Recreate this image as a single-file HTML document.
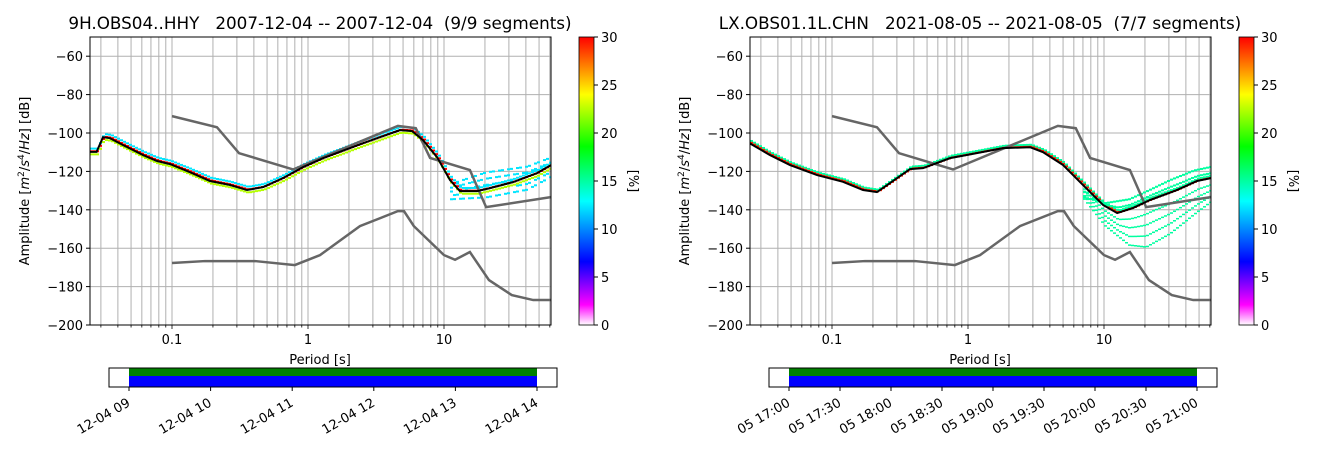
<!DOCTYPE html>
<html><head><meta charset="utf-8"><style>
body{margin:0;background:#fff;}
svg{display:block;font-family:"DejaVu Sans","Liberation Sans",sans-serif;}
text{white-space:pre;}
</style></head><body>
<svg id="s" width="1318" height="454" xmlns="http://www.w3.org/2000/svg">
<defs>
<linearGradient id="cb" x1="0" y1="1" x2="0" y2="0">
<stop offset="0" stop-color="#ffffff"/><stop offset="0.07" stop-color="#ff00ff"/>
<stop offset="0.22" stop-color="#0000ff"/><stop offset="0.43" stop-color="#00ffff"/>
<stop offset="0.62" stop-color="#00ff00"/><stop offset="0.8" stop-color="#ffff00"/>
<stop offset="1" stop-color="#ff0000"/></linearGradient>
</defs>
</svg>
<script>
// ---- data ----
const nhnmPeriods=[0.1,0.214,0.311,0.776,4.58,6.2,7.9,15.5,20.4,61];
const nhnmDb=[-91.2,-97,-110.5,-119,-96.3,-97.5,-113,-119.3,-138.6,-133.4];
const nlnmPeriods=[0.1,0.175,0.408,0.8,1.225,2.41,4.58,5.08,6.0,10,12.06,15.5,21.4,31.5,45.3,61];
const nlnmDb=[-167.7,-166.7,-166.7,-168.8,-163.6,-148.5,-140.7,-140.7,-148.5,-163.6,-166,-162,-176.6,-184.4,-187,-187];
const modeLPeriods=[0.0249,0.0279,0.0311,0.035,0.0437,0.0612,0.0776,0.0966,0.1355,0.19,0.267,0.356,0.467,0.655,0.918,1.29,2.54,4.74,5.82,7.01,8.89,11.07,13.1,17.5,21.8,32.1,48.3,61.2];
const modeLDb=[-109.8,-109.8,-102.2,-102.7,-106.3,-111.5,-114.6,-116.2,-120.4,-125,-127.1,-129.7,-128.2,-123.5,-117.8,-113.1,-105.3,-98.5,-99,-103.7,-112.6,-124.5,-130.3,-130.3,-128.7,-125.6,-120.9,-116.7];
const modeRPeriods=[0.0249,0.035,0.0491,0.0776,0.1205,0.169,0.214,0.267,0.375,0.467,0.738,1.16,1.81,2.86,3.56,5.0,7.01,9.84,12.5,16.3,21.8,34.4,48.3,61.2];
const modeRDb=[-105.4,-111.5,-116.7,-121.9,-125.4,-129.7,-130.8,-126.1,-118.8,-118.3,-113.1,-110.5,-107.9,-107.4,-110,-116.7,-127.1,-137.5,-141.7,-139.1,-134.9,-129.7,-125,-123.5];
const spreadLPeriods=[11,20,40,61];
const spreadLTop=[-126,-120,-117,-112];
const spreadLBot=[-134,-133,-129,-122];
const fanRPeriods=[7,10,15,20,30,45,61];
const fanRTop=[-133,-136,-134,-130,-124,-119,-117];
const fanRBot=[-134,-148,-158,-159,-152,-142,-135];
const cbTicks=[0,5,10,15,20,25,30];
const yTicks=[-60,-80,-100,-120,-140,-160,-180,-200];
const timeLabelsL=["12-04 09","12-04 10","12-04 11","12-04 12","12-04 13","12-04 14"];
const timeLabelsR=["05 17:00","05 17:30","05 18:00","05 18:30","05 19:00","05 19:30","05 20:00","05 20:30","05 21:00"];

const S=document.getElementById('s');const NS='http://www.w3.org/2000/svg';
function el(t,a,p){const e=document.createElementNS(NS,t);for(const k in a)e.setAttribute(k,a[k]);(p||S).appendChild(e);return e;}
function interp(xs,ys,x){const lx=Math.log10(x);for(let i=0;i<xs.length-1;i++){const a=Math.log10(xs[i]),b=Math.log10(xs[i+1]);if(lx>=a&&lx<=b){return ys[i]+(ys[i+1]-ys[i])*(lx-a)/(b-a);}}return lx<Math.log10(xs[0])?ys[0]:ys[ys.length-1];}

function panel(off,title,modeP,modeD,kind,tlabels,name){
 const X0=90+off,X1=551+off,Y0=37,Y1=325;
 const xs=p=>X0+82+(Math.log10(p)+1)*136;
 const ys=d=>Y0+(-50-d)/150*(Y1-Y0);
 const g=el('g',{});  
 el('text',{x:off+320,y:29,'text-anchor':'middle','font-size':16.8,fill:'#000','xml:space':'preserve'},g).textContent=title;
 const clip='c'+off;const cp=el('clipPath',{id:clip},g);el('rect',{x:X0,y:Y0,width:X1-X0,height:Y1-Y0},cp);
 const grid=el('g',{},g);
 const ticks=el('g',{},g);
 for(let e=-2;e<=1;e++)for(let m=1;m<=9;m++){const p=m*Math.pow(10,e);const x=xs(p);if(x<X0-0.1||x>X1+0.1)continue;
  el('line',{x1:x,x2:x,y1:Y0,y2:Y1,stroke:'#b0b0b0','stroke-width':1},grid);
  el('line',{x1:x,x2:x,y1:Y1,y2:Y1+(m==1?4:2.5),stroke:'#000','stroke-width':0.8},ticks);
  if(m==1){const t=el('text',{x:x,y:Y1+19,'text-anchor':'middle','font-size':13},ticks);t.textContent=(p<1?p.toFixed(1):p);}}
 yTicks.forEach(v=>{const y=ys(v);el('line',{x1:X0,x2:X1,y1:y,y2:y,stroke:'#b0b0b0','stroke-width':1},grid);
  el('line',{x1:X0-4,x2:X0,y1:y,y2:y,stroke:'#000'},ticks);
  const t=el('text',{x:X0-7,y:y+5,'text-anchor':'end','font-size':13},ticks);t.textContent=String(v).replace('-','\u2212');});
 const pdf=el('g',{'clip-path':'url(#'+clip+')'},g);
 for(let x=X0;x<X1;x+=3){const p=Math.pow(10,(x-X0-82)/136-1);const m=interp(modeP,modeD,p);
  if(kind=='L'){
   el('rect',{x:x,y:ys(m+2.2),width:3,height:2,fill:'#00e5ff'},pdf);
   el('rect',{x:x,y:ys(m-0.8),width:3,height:2,fill:'#b5ff00'},pdf);
   el('rect',{x:x,y:ys(m+0.8),width:3,height:2,fill:'#ff0000'},pdf);
   if(p>11){const t=interp(spreadLPeriods,spreadLTop,p),b=interp(spreadLPeriods,spreadLBot,p);
    for(let k=0;k<5;k++){const d=t+(b-t)*k/4;if(Math.abs(d-m)>1.5&&(Math.floor(x/3)+k)%3!=0)el('rect',{x:x,y:ys(d),width:3,height:2,fill:'#00e5ff'},pdf);}}
  } else {
   el('rect',{x:x,y:ys(m+1.8),width:3,height:2,fill:'#00ffa0'},pdf);
   el('rect',{x:x,y:ys(m+0.8),width:3,height:2,fill:'#ff2000'},pdf);
   if(p>7){const t=interp(fanRPeriods,fanRTop,p),b=interp(fanRPeriods,fanRBot,p);
    for(let k=1;k<=4;k++){el('rect',{x:x,y:ys(m+(b-m)*k/4),width:3,height:1.5,fill:'#00ffa0'},pdf);}
    for(let k=1;k<=2;k++){el('rect',{x:x,y:ys(m+(t-m)*k/2),width:3,height:2,fill:'#00ffa0'},pdf);}}
  }}
 const ln=(P,D,c,w,n)=>{const pl=el('polyline',{points:P.map((p,i)=>xs(p)+','+ys(D[i])).join(' '),fill:'none',stroke:c,'stroke-width':w,'clip-path':'url(#'+clip+')'},g);};
 ln(nhnmPeriods,nhnmDb,'#666',2.5,'nhnm-curve');ln(nlnmPeriods,nlnmDb,'#666',2.5,'nlnm-curve');
 ln(modeP,modeD,'#000',2,'mode-curve');
 el('rect',{x:X0,y:Y0,width:X1-X0,height:Y1-Y0,fill:'none',stroke:'#000','stroke-width':1},g);
 let t=el('text',{x:off+320,y:364,'text-anchor':'middle','font-size':13},g);t.textContent='Period [s]';
 t=el('text',{transform:`translate(${off+29},181) rotate(-90)`,'text-anchor':'middle','font-size':13},g);
 t.innerHTML='Amplitude [<tspan font-style="italic">m</tspan><tspan font-size="9" dy="-5">2</tspan><tspan dy="5">/</tspan><tspan font-style="italic">s</tspan><tspan font-size="9" dy="-5">4</tspan><tspan dy="5">/</tspan><tspan font-style="italic">Hz</tspan>] [dB]';
 // colorbar
 const cb=el('g',{},g);
 el('rect',{x:579+off,y:Y0,width:15,height:Y1-Y0,fill:'url(#cb)',stroke:'#000','stroke-width':0.8},cb);
 cbTicks.forEach(v=>{const y=Y1-v/30*(Y1-Y0);el('line',{x1:594+off,x2:598+off,y1:y,y2:y,stroke:'#000'},cb);
  el('text',{x:601+off,y:y+5,'font-size':13},cb).textContent=v;});
 el('text',{transform:`translate(${off+629},181) rotate(90)`,'text-anchor':'middle','font-size':13},cb).textContent='[%]';
 // timeline
 const tl=el('g',{},g);
 el('rect',{x:129+off,y:368,width:408,height:8,fill:'#008000'},tl);
 el('rect',{x:129+off,y:376,width:408,height:11,fill:'#0000ff'},tl);
 el('rect',{x:109+off,y:368,width:448,height:19,fill:'none',stroke:'#000','stroke-width':1},tl);
 const n=tlabels.length;tlabels.forEach((s,i)=>{const x=129+off+408*i/(n-1);
  el('line',{x1:x,x2:x,y1:387,y2:391,stroke:'#000'},tl);
  el('text',{transform:`translate(${x-1},400) rotate(-30)`,'text-anchor':'end','font-size':13,dy:6},tl).textContent=s;});
}
panel(0,'9H.OBS04..HHY   2007-12-04 -- 2007-12-04  (9/9 segments)',modeLPeriods,modeLDb,'L',timeLabelsL,'left-ppsd-panel');
panel(660,'LX.OBS01.1L.CHN   2021-08-05 -- 2021-08-05  (7/7 segments)',modeRPeriods,modeRDb,'R',timeLabelsR,'right-ppsd-panel');
</script>
</body></html>
